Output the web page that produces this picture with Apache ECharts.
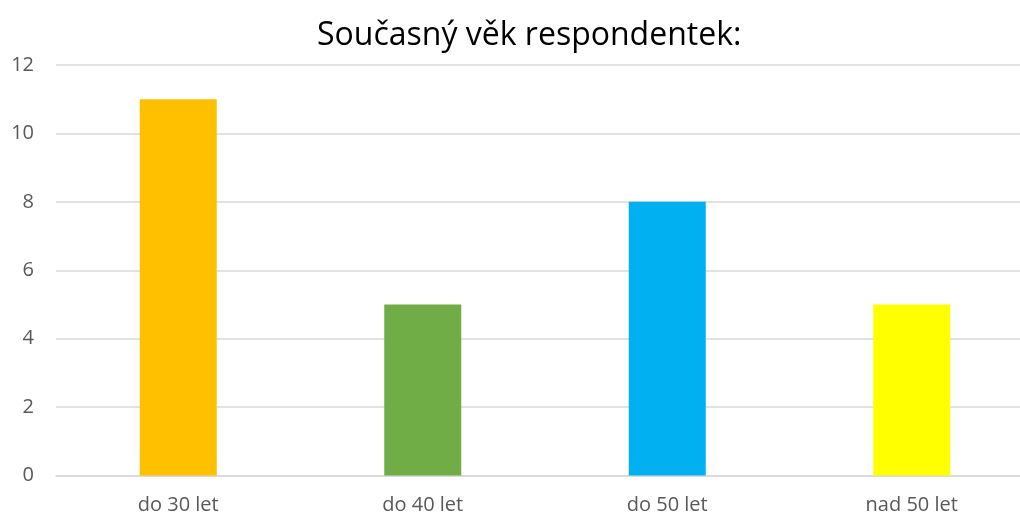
<!DOCTYPE html>
<html>
<head>
<meta charset="utf-8">
<script src="https://cdn.jsdelivr.net/npm/echarts@6/dist/echarts.min.js"></script>
<style>
  html, body { margin: 0; padding: 0; background: #fff; }
  #chart { width: 1020px; height: 515px; }
</style>
</head>
<body>
<div id="chart"></div>
<script>
// data
var categories = ['do 30 let', 'do 40 let', 'do 50 let', 'nad 50 let'];
var values = [11, 5, 8, 5];
var barColors = ['#FFC000', '#70AD47', '#00B0F0', '#FFFF00'];
var yTicks = [0, 2, 4, 6, 8, 10, 12];

var myChart = echarts.init(document.getElementById('chart'));

var option = {
  animation: false,
  title: {
    text: 'Současný věk respondentek:',
    left: 312,
    top: 15,
    textStyle: {
      fontFamily: 'Open Sans',
      fontSize: 32,
      fontWeight: 'normal',
      color: '#000'
    }
  },
  grid: {
    left: 56,
    top: 65,
    width: 978,
    height: 410.5,
    containLabel: false,
    outerBoundsMode: 'none'
  },
  xAxis: {
    type: 'category',
    data: categories,
    axisTick: { show: false },
    axisLine: { lineStyle: { color: '#D9D9D9', width: 1.5 } },
    axisLabel: {
      color: '#595959',
      fontFamily: 'Open Sans',
      fontSize: 20,
      margin: 20
    }
  },
  yAxis: {
    type: 'value',
    min: yTicks[0],
    max: yTicks[yTicks.length - 1],
    interval: 2,
    axisLine: { show: false },
    axisTick: { show: false },
    axisLabel: {
      color: '#595959',
      fontFamily: 'Open Sans',
      fontSize: 20,
      margin: 22
    },
    splitLine: { lineStyle: { color: '#D9D9D9', width: 1.5 } }
  },
  series: [{
    type: 'bar',
    barWidth: 77,
    data: values.map(function (v, i) {
      return { value: v, itemStyle: { color: barColors[i] } };
    })
  }]
};

myChart.setOption(option);
</script>
</body>
</html>
